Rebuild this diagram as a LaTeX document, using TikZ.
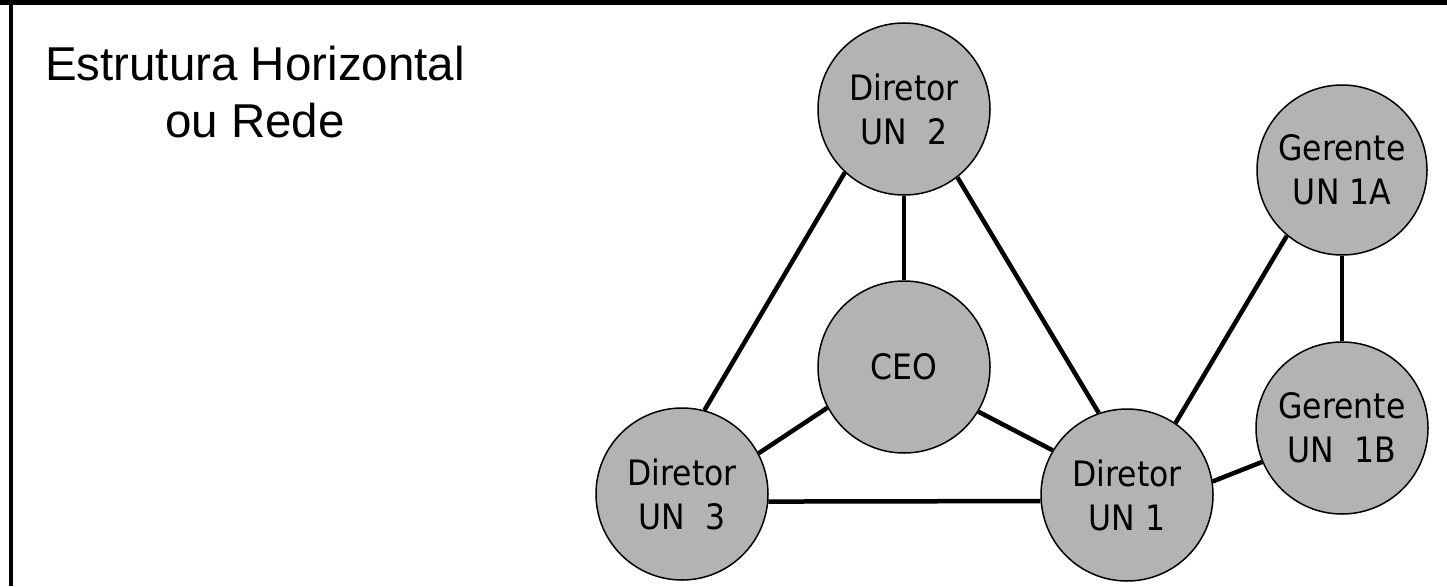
\documentclass[tikz,border=0pt]{standalone}
\usepackage{fontspec}
\setmainfont{Liberation Sans}
\newfontfamily\unitfont{DejaVu Sans Condensed}
\begin{document}
\begin{tikzpicture}[x=1pt,y=-1pt,
  unit/.style={circle, draw=black, line width=1.5pt, fill=unitgray,
    minimum size=172pt, inner sep=0pt, align=center,
    font=\unitfont\fontsize{35}{44}\selectfont},
  link/.style={draw=black, line width=4.5pt},
  title/.style={anchor=base, inner sep=0pt, font=\fontsize{47.5}{57}\selectfont}]
\definecolor{unitgray}{HTML}{B3B3B3}
\useasboundingbox (0,0) rectangle (1447,586);
% frame: top bar and left rule
\fill[black] (0,0) rectangle (1447,5.5);
\fill[black] (9.3,0) rectangle (12.5,586);

% title
\node[title] (t1) at (255,80) {Estrutura Horizontal};
\node[title] (t2) at (255,137) {ou Rede};

% units
\node[unit] (d2)  at (904,109)  {Diretor\\UN\ \ 2};
\node[unit] (ceo) at (904,367)  {CEO};
\node[unit] (d3)  at (682,494)  {Diretor\\UN\ \ 3};
\node[unit] (d1)  at (1127,495) {Diretor\\UN 1};
\node[unit, minimum size=170pt] (g1a) at (1342,170) {Gerente\\UN 1A};
\node[unit] (g1b) at (1342,428) {Gerente\\UN\ \ 1B};

% links between units, ending on the circle borders
\draw[link] (d2.south) -- (ceo.north);
\draw[link] (d2.227.8) -- (d3.75.3);
\draw[link] (d2.308) -- (d1.109.5);
\draw[link] (ceo.208.7) -- (d3.28.7);
\draw[link] (ceo.329.8) -- (d1.149.8);
\draw[link] (d3.-5.3) -- (d1.184.7);
\draw[link] (d1.56.3) -- (g1a.230.3);
\draw[link] (d1.9.2) -- (g1b.203.9);
\draw[link] (g1a.south) -- (g1b.north);
\end{tikzpicture}
\end{document}
